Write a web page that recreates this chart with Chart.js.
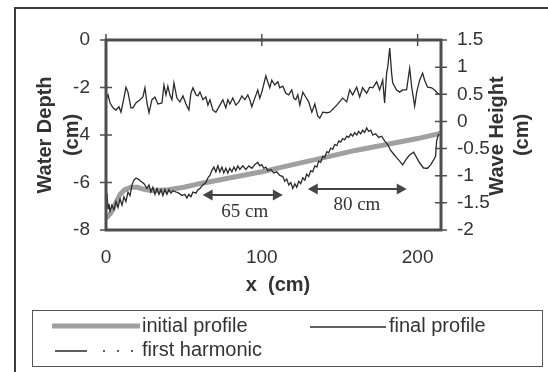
<!DOCTYPE html>
<html>
<head>
<meta charset="utf-8">
<script src="https://cdn.jsdelivr.net/npm/chart.js@4"></script>
<style>
  html, body { margin: 0; padding: 0; background: #fff; }
  canvas { display: block; }
</style>
</head>
<body>
<canvas id="myChart" width="548" height="372"></canvas>
<script>
const xTicks = [0, 100, 200];
const depthTicks = [0, -2, -4, -6, -8];
const heightTicks = [1.5, 1, 0.5, 0, -0.5, -1, -1.5, -2];

// initial profile (thick grey), left axis
const initialX = [0, 3, 6, 9, 12, 16, 20, 25, 30, 40, 50, 60, 80, 100, 120, 140, 160, 180, 200, 215];
const initialDepth = [-7.5, -7.3, -6.9, -6.5, -6.3, -6.2, -6.2, -6.3, -6.35, -6.3, -6.2, -6.05, -5.8, -5.55, -5.25, -4.95, -4.65, -4.4, -4.15, -3.92];

// final profile, left axis
const finalX = [
  0, 0.6, 1.3, 1.9, 2.6, 3.8, 5.1, 6.4, 7.7, 9.0,
  10.3, 11.5, 12.8, 14.1, 15.4, 16.7, 17.9, 19.2, 20.5, 22.4,
  24.4, 26.3, 27.6, 28.8, 30.1, 31.4, 32.7, 34.0, 35.3, 36.5,
  37.8, 39.1, 40.4, 41.7, 42.9, 44.9, 46.8, 48.7, 50.6, 51.9,
  53.2, 54.5, 55.8, 57.7, 59.0, 60.3, 62.2, 64.1, 65.4, 66.7,
  67.9, 69.2, 70.5, 71.8, 73.1, 74.4, 75.6, 76.9, 78.2, 79.5,
  80.8, 82.1, 83.3, 84.6, 85.9, 87.8, 89.7, 91.7, 93.6, 95.5,
  97.4, 98.7, 100, 101.3, 102.6, 103.8, 105.8, 107.7, 109.6, 111.5,
  113.5, 114.7, 116.0, 117.3, 118.6, 119.9, 121.2, 122.4, 123.7, 125.0,
  126.3, 127.6, 128.8, 130.1, 131.4, 132.7, 134.0, 135.3, 136.5, 137.8,
  139.1, 140.4, 141.7, 142.9, 144.2, 145.5, 146.8, 148.1, 149.4, 150.6,
  151.9, 153.2, 154.5, 155.8, 157.1, 158.3, 159.6, 160.9, 162.2, 163.5,
  164.7, 166.0, 167.3, 168.6, 169.9, 171.2, 173.1, 175.0, 176.9, 178.8,
  180.8, 182.7, 184.6, 186.5, 188.5, 190.4, 192.9, 194.9, 197.4, 199.4,
  201.3, 203.8, 206.4, 208.3, 210.3, 211.5, 212.2, 213.5
];
const finalDepth = [
  -6.7, -6.45, -7.1, -6.9, -7.2, -6.95, -7.15, -6.8, -7.05, -6.7,
  -6.95, -6.6, -6.8, -6.4, -6.55, -6.1, -5.9, -5.82, -5.85, -5.95,
  -6.05, -6.25, -6.1, -6.4, -6.2, -6.5, -6.25, -6.5, -6.3, -6.55,
  -6.3, -6.5, -6.3, -6.45, -6.35, -6.4, -6.45, -6.55, -6.5, -6.65,
  -6.5, -6.6, -6.4, -6.45, -6.3, -6.25, -6.1, -6.0, -5.8, -5.7,
  -5.5, -5.35, -5.55, -5.3, -5.55, -5.35, -5.6, -5.4, -5.6, -5.4,
  -5.55, -5.35, -5.5, -5.3, -5.45, -5.3, -5.45, -5.3, -5.4, -5.25,
  -5.15, -5.3, -5.25, -5.4, -5.35, -5.5, -5.45, -5.6, -5.55, -5.7,
  -5.75, -5.95, -5.85, -6.1, -6.0, -6.25, -6.05, -6.2, -5.95, -6.05,
  -5.8, -5.9, -5.65, -5.75, -5.5, -5.55, -5.3, -5.35, -5.1, -5.15,
  -4.9, -4.95, -4.7, -4.75, -4.55, -4.6, -4.4, -4.45, -4.25, -4.3,
  -4.15, -4.2, -4.05, -4.1, -3.95, -4.05, -3.9, -4.0, -3.85, -3.95,
  -3.8, -3.9, -3.7, -3.85, -3.8, -4.0, -3.95, -4.1, -4.05, -4.25,
  -4.4, -4.65, -4.8, -4.95, -5.1, -5.26, -5.0, -4.84, -4.72, -4.95,
  -5.18, -5.39, -5.4, -5.26, -5.05, -4.9, -4.25, -3.95
];

// first harmonic wave height, right axis
const harmonicX = [
  0, 1.3, 2.6, 4.5, 6.4, 8.3, 9.6, 11.5, 12.8, 14.1,
  16.0, 17.3, 19.2, 21.8, 23.7, 25.0, 26.3, 27.6, 29.5, 31.4,
  33.3, 35.9, 37.2, 38.5, 39.7, 41.0, 42.3, 43.6, 45.5, 47.4,
  49.4, 51.3, 53.2, 54.5, 55.8, 57.7, 59.0, 60.3, 62.2, 64.1,
  65.4, 66.7, 68.6, 70.5, 73.1, 75.0, 76.9, 78.2, 79.5, 81.4,
  83.3, 85.3, 87.2, 89.1, 91.0, 92.3, 93.6, 95.5, 97.4, 98.7,
  100.0, 101.3, 102.6, 103.8, 105.1, 106.4, 108.3, 110.3, 111.5, 113.5,
  115.4, 117.3, 119.2, 120.5, 121.8, 123.1, 124.4, 126.3, 128.2, 130.1,
  132.1, 134.0, 135.9, 137.2, 139.1, 141.7, 143.6, 148.1, 151.9, 154.5,
  156.4, 158.3, 160.9, 162.8, 164.7, 167.3, 169.2, 171.2, 173.7, 175.6,
  177.6, 178.8, 180.1, 180.8, 182.1, 183.3, 184.0, 186.5, 188.5, 190.4,
  192.9, 194.9, 196.2, 196.8, 198.1, 199.4, 201.3, 203.2, 204.5, 206.4,
  209.0, 210.9, 212.8, 214.7
];
const harmonicHeight = [
  0.40, 0.49, 0.34, 0.25, 0.21, 0.27, 0.17, 0.43, 0.63, 0.54,
  0.25, 0.25, 0.34, 0.40, 0.45, 0.62, 0.34, 0.16, 0.40, 0.45,
  0.32, 0.34, 0.67, 0.49, 0.65, 0.49, 0.40, 0.71, 0.43, 0.36,
  0.47, 0.32, 0.21, 0.52, 0.62, 0.49, 0.47, 0.54, 0.40, 0.45,
  0.30, 0.40, 0.21, 0.17, 0.30, 0.40, 0.25, 0.40, 0.32, 0.43,
  0.30, 0.36, 0.47, 0.40, 0.49, 0.40, 0.27, 0.43, 0.58, 0.43,
  0.54, 0.69, 0.84, 0.73, 0.62, 0.76, 0.67, 0.73, 0.62, 0.65,
  0.52, 0.49, 0.58, 0.43, 0.40, 0.49, 0.30, 0.54, 0.45, 0.36,
  0.17, 0.32, 0.10, 0.06, 0.17, 0.16, 0.17, 0.30, 0.43, 0.36,
  0.58, 0.49, 0.63, 0.45, 0.62, 0.52, 0.63, 0.62, 0.73, 0.58,
  0.76, 0.34, 0.89, 1.00, 1.35, 0.89, 0.71, 0.58, 0.54, 0.58,
  0.58, 0.98, 0.63, 0.52, 0.28, 0.54, 0.76, 0.89, 0.76, 0.63,
  0.62, 0.58, 0.52, 0.49
];

// wavelength markers (cm, depth)
const spanLabels = ["65 cm", "80 cm"];
const spanFrom = [62, 129.5];
const spanTo = [113.5, 193];
const spanDepth = [-6.53, -6.27];
const spanLabelX = [89, 161];
const spanLabelDepth = [-7.25, -6.95];

const sans = "'Liberation Sans', Arial, sans-serif";

function pairs(xs, ys) {
  return xs.map((v, i) => ({ x: v, y: ys[i] }));
}

function vtext(ctx, txt, x, y) {
  ctx.save();
  ctx.translate(x, y);
  ctx.rotate(-Math.PI / 2);
  ctx.fillText(txt, 0, 0);
  ctx.restore();
}

function arrowHead(ctx, x, y, dir) {
  ctx.beginPath();
  ctx.moveTo(x, y);
  ctx.lineTo(x - dir * 10, y - 5.5);
  ctx.lineTo(x - dir * 10, y + 5.5);
  ctx.closePath();
  ctx.fill();
}

const decorations = {
  id: "decorations",
  afterDraw(chart) {
    const ctx = chart.ctx;
    const a = chart.chartArea;
    const sx = chart.scales.x, sy = chart.scales.y, sy2 = chart.scales.y2;
    ctx.save();

    // outer frame of the figure
    ctx.strokeStyle = "#3a3a3a";
    ctx.lineWidth = 2;
    ctx.beginPath();
    ctx.moveTo(15, 372);
    ctx.lineTo(15, 8);
    ctx.lineTo(548, 8);
    ctx.stroke();

    // plot frame
    ctx.strokeStyle = "#4e4e4e";
    ctx.lineWidth = 3;
    ctx.strokeRect(a.left, a.top, a.right - a.left, a.bottom - a.top);

    // tick marks crossing the axes
    ctx.lineWidth = 1.5;
    ctx.beginPath();
    depthTicks.forEach(v => {
      const p = sy.getPixelForValue(v);
      ctx.moveTo(a.left - 6, p); ctx.lineTo(a.left + 6, p);
    });
    heightTicks.forEach(v => {
      const p = sy2.getPixelForValue(v);
      ctx.moveTo(a.right - 6, p); ctx.lineTo(a.right + 6, p);
    });
    xTicks.forEach(v => {
      const p = sx.getPixelForValue(v);
      ctx.moveTo(p, a.top - 6); ctx.lineTo(p, a.top + 6);
    });
    ctx.stroke();

    // axis titles
    ctx.fillStyle = "#333";
    ctx.font = "bold 20px " + sans;
    ctx.textAlign = "center";
    ctx.textBaseline = "middle";
    vtext(ctx, "Water Depth", 45, 135);
    vtext(ctx, "(cm)", 72, 135);
    vtext(ctx, "Wave Height", 497, 136);
    vtext(ctx, "(cm)", 522, 135);
    ctx.fillText("x  (cm)", 278, 285);

    // wavelength arrows
    ctx.strokeStyle = "#454545";
    ctx.fillStyle = "#454545";
    ctx.lineWidth = 2;
    spanLabels.forEach((lab, i) => {
      const x1 = sx.getPixelForValue(spanFrom[i]);
      const x2 = sx.getPixelForValue(spanTo[i]);
      const yy = sy.getPixelForValue(spanDepth[i]);
      ctx.beginPath();
      ctx.moveTo(x1 + 6, yy); ctx.lineTo(x2 - 6, yy);
      ctx.stroke();
      arrowHead(ctx, x1, yy, -1);
      arrowHead(ctx, x2, yy, 1);
    });
    ctx.fillStyle = "#333";
    ctx.font = "19px 'Liberation Serif', 'Times New Roman', serif";
    spanLabels.forEach((lab, i) => {
      ctx.fillText(lab, sx.getPixelForValue(spanLabelX[i]), sy.getPixelForValue(spanLabelDepth[i]));
    });

    // legend box
    const ds = chart.data.datasets;
    ctx.strokeStyle = "#555";
    ctx.lineWidth = 1;
    ctx.strokeRect(32.5, 310.5, 510, 56);
    ctx.font = "20px " + sans;
    ctx.textAlign = "left";
    ctx.fillStyle = "#333";

    ctx.strokeStyle = ds[0].borderColor;
    ctx.lineWidth = 5;
    ctx.beginPath(); ctx.moveTo(52, 326); ctx.lineTo(140, 326); ctx.stroke();
    ctx.fillText(ds[0].label, 142, 326);

    ctx.strokeStyle = ds[1].borderColor;
    ctx.lineWidth = 1.3;
    ctx.beginPath(); ctx.moveTo(310, 327); ctx.lineTo(386, 327); ctx.stroke();
    ctx.fillText(ds[1].label, 389, 326);

    ctx.strokeStyle = ds[2].borderColor;
    ctx.setLineDash([32, 16, 2, 12, 2, 12, 2, 200]);
    ctx.beginPath(); ctx.moveTo(55, 351); ctx.lineTo(140, 351); ctx.stroke();
    ctx.setLineDash([]);
    ctx.fillText(ds[2].label, 142, 350);

    ctx.restore();
  }
};

const tickFont = { family: sans, size: 19 };

new Chart(document.getElementById("myChart"), {
  type: "line",
  data: {
    datasets: [
      {
        label: "initial profile",
        data: pairs(initialX, initialDepth),
        yAxisID: "y",
        borderColor: "#a0a0a0",
        borderWidth: 5,
        pointRadius: 0,
        order: 3
      },
      {
        label: "final profile",
        data: pairs(finalX, finalDepth),
        yAxisID: "y",
        borderColor: "#2b2b2b",
        borderWidth: 1.3,
        pointRadius: 0,
        order: 1
      },
      {
        label: "first harmonic",
        data: pairs(harmonicX, harmonicHeight),
        yAxisID: "y2",
        borderColor: "#2b2b2b",
        borderWidth: 1.3,
        pointRadius: 0,
        order: 2
      }
    ]
  },
  options: {
    responsive: false,
    animation: false,
    layout: { padding: { top: 40, left: 0, right: 0, bottom: 0 } },
    plugins: { legend: { display: false }, tooltip: { enabled: false } },
    scales: {
      x: {
        type: "linear",
        min: 0,
        max: 215,
        afterBuildTicks: s => { s.ticks = xTicks.map(v => ({ value: v })); },
        afterFit: s => { s.height = 142; },
        grid: { display: false, drawTicks: false },
        border: { display: false },
        ticks: { padding: 16, color: "#333", font: tickFont, maxRotation: 0 }
      },
      y: {
        position: "left",
        min: -8,
        max: 0,
        afterBuildTicks: s => { s.ticks = depthTicks.map(v => ({ value: v })); },
        afterFit: s => { s.width = 106; },
        grid: { display: false, drawTicks: false },
        border: { display: false },
        ticks: { padding: 16, color: "#333", font: tickFont }
      },
      y2: {
        position: "right",
        min: -2,
        max: 1.5,
        afterBuildTicks: s => { s.ticks = heightTicks.map(v => ({ value: v })); },
        afterFit: s => { s.width = 107; },
        grid: { display: false, drawTicks: false },
        border: { display: false },
        ticks: { padding: 16, color: "#333", font: tickFont, callback: v => String(v) }
      }
    }
  },
  plugins: [decorations]
});
</script>
</body>
</html>
